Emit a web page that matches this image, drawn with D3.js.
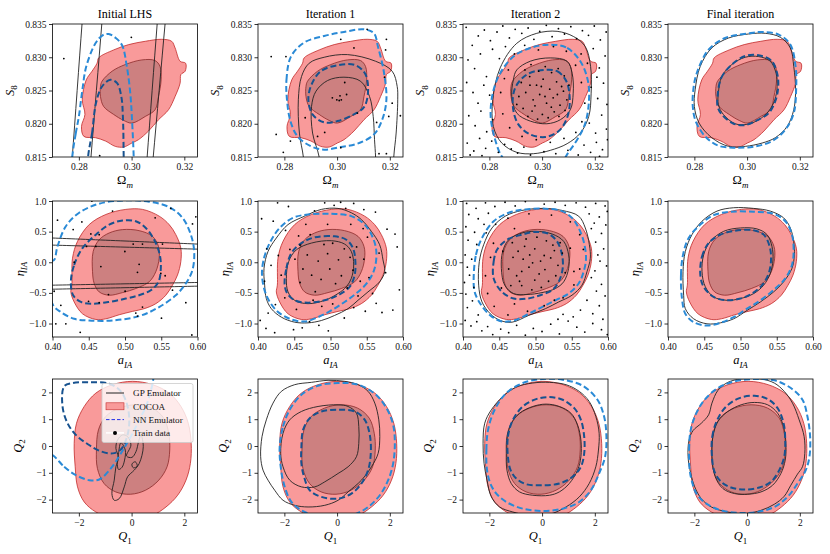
<!DOCTYPE html>
<html>
<head>
<meta charset="utf-8">
<script src="https://cdn.jsdelivr.net/npm/d3@7"></script>
<style>
  body { margin: 0; background: #fff; }
  svg { font-family: "Liberation Serif", "Times New Roman", serif; }
</style>
</head>
<body>
<div class="chart"></div>
<script>
// ---- titles / ticks ----
var columnTitles = ["Initial LHS", "Iteration 1", "Iteration 2", "Final iteration"];
var s8XTicks = [0.28, 0.30, 0.32], s8YTicks = [0.815, 0.820, 0.825, 0.830, 0.835];
var iaXTicks = [0.40, 0.45, 0.50, 0.55, 0.60], iaYTicks = [-1.0, -0.5, 0.0, 0.5, 1.0];
var qXTicks = [-2, 0, 2], qYTicks = [-2, -1, 0, 1, 2];
var legendLabels = ["GP Emulator", "COCOA", "NN Emulator", "Train data"];

// ---- COCOA reference contours (same in every column of a row) ----
var s8CocoaOuter = [[0.2875,0.8299],[0.2932,0.8311],[0.2989,0.8319],[0.3052,0.8324],[0.3114,0.8327],[0.3152,0.8324],[0.3165,0.8314],[0.3184,0.8294],[0.3205,0.8291],[0.3203,0.8279],[0.3187,0.8274],[0.3184,0.8261],[0.3165,0.8241],[0.3140,0.8221],[0.3102,0.8206],[0.3064,0.8189],[0.3026,0.8176],[0.3001,0.8171],[0.2970,0.8165],[0.2938,0.8166],[0.2901,0.8174],[0.2863,0.8179],[0.2819,0.8181],[0.2810,0.8196],[0.2823,0.8214],[0.2813,0.8236],[0.2828,0.8266],[0.2850,0.8279],[0.2869,0.8291]];
var s8CocoaInner = [[0.2888,0.8264],[0.2926,0.8279],[0.2976,0.8289],[0.3039,0.8296],[0.3089,0.8295],[0.3108,0.8286],[0.3112,0.8266],[0.3102,0.8241],[0.3089,0.8221],[0.3052,0.8211],[0.3001,0.8201],[0.2970,0.8205],[0.2932,0.8214],[0.2894,0.8226],[0.2882,0.8241],[0.2882,0.8256]];
var iaCocoaOuter = [[0.4276,0.066],[0.4345,0.341],[0.4506,0.615],[0.4736,0.780],[0.5011,0.863],[0.5241,0.863],[0.5471,0.753],[0.5609,0.615],[0.5701,0.451],[0.5770,0.231],[0.5770,0.011],[0.5724,-0.209],[0.5655,-0.374],[0.5563,-0.538],[0.5425,-0.676],[0.5264,-0.758],[0.5103,-0.802],[0.4920,-0.857],[0.4736,-0.923],[0.4598,-0.934],[0.4414,-0.841],[0.4299,-0.648],[0.4253,-0.484],[0.4267,-0.374]];
var iaCocoaInner = [[0.4552,-0.154],[0.4561,0.176],[0.4644,0.368],[0.4782,0.478],[0.4966,0.533],[0.5195,0.516],[0.5379,0.423],[0.5462,0.258],[0.5471,0.066],[0.5425,-0.154],[0.5333,-0.319],[0.5149,-0.429],[0.4966,-0.495],[0.4782,-0.538],[0.4644,-0.484],[0.4575,-0.346]];
var qCocoaOuter = [[-2.177,0.100],[-2.089,0.850],[-1.797,1.475],[-1.354,1.975],[-0.722,2.288],[0.038,2.413],[0.797,2.288],[1.430,1.975],[1.873,1.475],[2.150,0.850],[2.260,0.100],[2.230,-0.650],[2.063,-1.275],[1.747,-1.838],[1.304,-2.275],[0.797,-2.588],[0.038,-2.750],[-0.722,-2.713],[-1.354,-2.463],[-1.797,-2.088],[-2.051,-1.525],[-2.139,-0.775]];
var qCocoaInner = [[-1.333,-0.150],[-1.258,0.600],[-0.981,1.100],[-0.478,1.413],[0.151,1.538],[0.780,1.413],[1.220,1.038],[1.409,0.475],[1.447,-0.150],[1.346,-0.775],[1.031,-1.275],[0.528,-1.650],[-0.038,-1.800],[-0.604,-1.713],[-1.044,-1.400],[-1.296,-0.838]];

// ---- GP emulator contours, one list of rings per column ----
var s8Gp = [
  [[[0.2755,0.805],[0.2775,0.815],[0.2812,0.835],[0.2832,0.845],[0.3151,0.845],[0.3127,0.835],[0.3082,0.815],[0.3058,0.805]],
   [[0.2826,0.805],[0.2846,0.815],[0.2887,0.835],[0.2907,0.845],[0.3117,0.845],[0.3097,0.835],[0.3059,0.815],[0.3040,0.805]]],
  [[[0.2872,0.815],[0.2857,0.8186],[0.2853,0.8236],[0.2865,0.8271],[0.2894,0.8291],[0.2951,0.8300],[0.3039,0.8304],[0.3146,0.8294],[0.3209,0.8279],[0.3228,0.8256],[0.3230,0.8236],[0.3224,0.8186],[0.3215,0.815],[0.3212,0.811],[0.2878,0.811]],
   [[0.2932,0.815],[0.2907,0.8186],[0.2903,0.8226],[0.2920,0.8249],[0.2964,0.8265],[0.3026,0.8270],[0.3089,0.8264],[0.3123,0.8241],[0.3137,0.8211],[0.3142,0.8176],[0.3146,0.815],[0.3148,0.811],[0.2940,0.811]]],
  [[[0.2980,0.8336],[0.3057,0.8339],[0.3120,0.8331],[0.3164,0.8316],[0.3184,0.8286],[0.3186,0.8246],[0.3177,0.8211],[0.3145,0.8186],[0.3095,0.8170],[0.3031,0.8160],[0.2968,0.8155],[0.2904,0.8157],[0.2847,0.8171],[0.2815,0.8196],[0.2813,0.8236],[0.2841,0.8284],[0.2904,0.8321]],
   [[0.2904,0.8281],[0.2955,0.8294],[0.3031,0.8299],[0.3095,0.8294],[0.3114,0.8276],[0.3118,0.8246],[0.3107,0.8221],[0.3069,0.8206],[0.3018,0.8200],[0.2955,0.8204],[0.2904,0.8216],[0.2885,0.8241],[0.2891,0.8266]]],
  [[[0.2803,0.8251],[0.2822,0.8286],[0.2866,0.8314],[0.2930,0.8329],[0.3006,0.8335],[0.3069,0.8336],[0.3126,0.8330],[0.3164,0.8314],[0.3177,0.8286],[0.3184,0.8251],[0.3177,0.8221],[0.3152,0.8196],[0.3107,0.8179],[0.3057,0.8171],[0.2993,0.8166],[0.2930,0.8166],[0.2866,0.8179],[0.2818,0.8201],[0.2800,0.8226]],
   [[0.2891,0.8246],[0.2904,0.8271],[0.2942,0.8289],[0.2993,0.8300],[0.3044,0.8301],[0.3088,0.8294],[0.3110,0.8276],[0.3114,0.8256],[0.3105,0.8236],[0.3082,0.8219],[0.3044,0.8206],[0.2999,0.8199],[0.2955,0.8200],[0.2910,0.8214],[0.2891,0.8229]]]
];
var iaGp = [
  [[[0.38,0.406],[0.40,0.396],[0.50,0.347],[0.60,0.297],[0.62,0.287],[0.62,-0.385],[0.60,-0.390],[0.50,-0.415],[0.40,-0.440],[0.38,-0.445]],
   [[0.38,0.287],[0.40,0.280],[0.50,0.247],[0.60,0.214],[0.62,0.207],[0.62,-0.326],[0.60,-0.330],[0.50,-0.352],[0.40,-0.374],[0.38,-0.378]]],
  [[[0.4083,-0.099],[0.4138,0.176],[0.4253,0.396],[0.4414,0.615],[0.4644,0.753],[0.4874,0.863],[0.5103,0.879],[0.5287,0.808],[0.5425,0.698],[0.5563,0.505],[0.5678,0.286],[0.5724,0.038],[0.5747,-0.154],[0.5678,-0.319],[0.5517,-0.484],[0.5379,-0.621],[0.5241,-0.758],[0.5057,-0.868],[0.4874,-0.951],[0.4690,-0.989],[0.4506,-0.978],[0.4322,-0.896],[0.4184,-0.758],[0.4115,-0.593],[0.4092,-0.374]],
   [[0.4391,-0.264],[0.4423,0.011],[0.4529,0.203],[0.4736,0.313],[0.5011,0.352],[0.5195,0.297],[0.5287,0.176],[0.5320,-0.044],[0.5287,-0.264],[0.5218,-0.401],[0.5103,-0.511],[0.4920,-0.621],[0.4690,-0.676],[0.4506,-0.621],[0.4414,-0.484]]],
  [[[0.4216,-0.374],[0.4225,0.011],[0.4285,0.286],[0.4400,0.560],[0.4584,0.753],[0.4814,0.846],[0.5090,0.879],[0.5366,0.846],[0.5595,0.753],[0.5687,0.560],[0.5743,0.286],[0.5756,0.066],[0.5710,-0.154],[0.5641,-0.374],[0.5503,-0.538],[0.5320,-0.648],[0.5136,-0.758],[0.4906,-0.868],[0.4676,-0.978],[0.4515,-0.951],[0.4377,-0.841],[0.4262,-0.648]],
   [[0.4529,-0.099],[0.4547,0.176],[0.4630,0.368],[0.4814,0.478],[0.4998,0.505],[0.5228,0.462],[0.5389,0.341],[0.5457,0.121],[0.5457,-0.099],[0.5389,-0.319],[0.5274,-0.429],[0.5090,-0.495],[0.4883,-0.527],[0.4699,-0.511],[0.4575,-0.374]]],
  [[[0.4216,-0.538],[0.4207,-0.154],[0.4239,0.176],[0.4331,0.451],[0.4469,0.670],[0.4676,0.835],[0.4906,0.890],[0.5182,0.879],[0.5411,0.835],[0.5595,0.725],[0.5687,0.560],[0.5733,0.341],[0.5743,0.121],[0.5710,-0.099],[0.5595,-0.319],[0.5457,-0.484],[0.5274,-0.648],[0.5090,-0.786],[0.4906,-0.923],[0.4722,-0.989],[0.4538,-1.005],[0.4354,-0.923],[0.4239,-0.758]],
   [[0.4469,-0.154],[0.4492,0.121],[0.4584,0.341],[0.4768,0.505],[0.4998,0.560],[0.5228,0.544],[0.5366,0.451],[0.5434,0.258],[0.5448,0.038],[0.5411,-0.181],[0.5320,-0.374],[0.5182,-0.511],[0.4998,-0.593],[0.4814,-0.621],[0.4630,-0.566],[0.4515,-0.401]]]
];
var qGp = [
  [[[-0.532,0.225],[-0.342,0.413],[-0.152,0.350],[-0.025,0.038],[-0.190,-0.375],[0.013,-0.425],[0.165,-0.213],[0.266,0.163],[0.354,0.413],[0.443,-0.025],[0.291,-0.650],[0.101,-0.900],[-0.152,-1.150],[-0.278,-1.525],[-0.468,-1.963],[-0.658,-2.025],[-0.747,-1.775],[-0.658,-1.275],[-0.595,-0.775],[-0.494,-0.425],[-0.595,-0.088]],
   [[-0.405,0.125],[-0.241,-0.150],[-0.266,-0.525],[-0.367,-0.800],[-0.494,-0.875],[-0.544,-0.625],[-0.494,-0.250]],
   [[0.013,-0.675],[0.139,-0.588],[0.215,-0.750],[0.063,-0.813]]],
  [[[-2.899,-0.400],[-2.848,0.350],[-2.684,0.975],[-2.430,1.600],[-2.114,2.038],[-1.608,2.288],[-0.975,2.375],[-0.342,2.450],[0.291,2.413],[0.797,2.288],[1.177,2.038],[1.430,1.600],[1.582,0.975],[1.620,0.350],[1.557,-0.275],[1.304,-0.775],[0.924,-1.275],[0.418,-1.713],[0.038,-2.025],[-0.468,-2.213],[-1.101,-2.275],[-1.608,-2.213],[-2.051,-2.025],[-2.367,-1.650],[-2.620,-1.275],[-2.810,-0.900]],
   [[-2.139,-0.275],[-2.051,0.475],[-1.797,0.975],[-1.354,1.288],[-0.722,1.475],[0.038,1.538],[0.418,1.475],[0.734,1.225],[0.823,0.725],[0.823,0.100],[0.734,-0.400],[0.418,-0.775],[0.038,-1.025],[-0.468,-1.338],[-0.848,-1.525],[-1.354,-1.525],[-1.797,-1.275],[-2.051,-0.775]]],
  [[[-2.239,0.100],[-2.176,0.850],[-1.925,1.350],[-1.484,1.850],[-0.981,2.200],[-0.352,2.350],[0.277,2.375],[0.906,2.288],[1.409,2.038],[1.786,1.663],[2.038,1.100],[2.164,0.475],[2.138,-0.150],[2.038,-0.775],[1.786,-1.400],[1.409,-1.900],[0.906,-2.275],[0.277,-2.550],[-0.478,-2.588],[-1.107,-2.463],[-1.610,-2.275],[-1.925,-1.900],[-2.088,-1.275],[-2.201,-0.650]],
   [[-1.358,-0.275],[-1.333,0.350],[-1.170,0.850],[-0.855,1.225],[-0.352,1.475],[0.151,1.563],[0.654,1.475],[1.094,1.225],[1.346,0.788],[1.472,0.225],[1.472,-0.400],[1.346,-0.900],[1.031,-1.400],[0.654,-1.713],[0.277,-1.838],[-0.352,-1.838],[-0.855,-1.713],[-1.170,-1.400],[-1.333,-0.900]]],
  [[[-2.239,-0.400],[-2.201,0.225],[-2.050,0.575],[-1.736,0.850],[-1.459,1.163],[-1.333,1.600],[-1.107,2.075],[-0.730,2.375],[-0.226,2.500],[0.528,2.500],[1.031,2.350],[1.409,2.038],[1.723,1.600],[1.975,0.975],[2.164,0.350],[2.189,-0.275],[2.101,-0.775],[1.912,-1.050],[1.660,-1.463],[1.409,-1.875],[1.031,-2.175],[0.528,-2.400],[-0.101,-2.525],[-0.730,-2.463],[-1.358,-2.275],[-1.736,-1.963],[-1.987,-1.525],[-2.138,-1.025]],
   [[-1.333,-0.400],[-1.296,0.350],[-1.107,0.913],[-0.730,1.288],[-0.226,1.538],[0.277,1.625],[0.780,1.538],[1.157,1.225],[1.384,0.725],[1.472,0.100],[1.447,-0.525],[1.283,-1.025],[0.969,-1.463],[0.528,-1.713],[0.025,-1.800],[-0.478,-1.775],[-0.918,-1.588],[-1.208,-1.150]]]
];

// ---- NN emulator contours, [outer, inner] per column ----
var s8Nn = [
  [[[0.2775,0.815],[0.2788,0.8185],[0.2800,0.8211],[0.2813,0.8250],[0.2828,0.8286],[0.2863,0.8321],[0.2890,0.8333],[0.2913,0.8335],[0.2940,0.8329],[0.2964,0.8318],[0.2982,0.8286],[0.2995,0.8246],[0.3001,0.8211],[0.3008,0.815],[0.3010,0.811],[0.2772,0.811]],
   [[0.2835,0.815],[0.2850,0.8186],[0.2865,0.8231],[0.2888,0.8256],[0.2920,0.8266],[0.2945,0.8261],[0.2961,0.8241],[0.2967,0.8211],[0.2970,0.815],[0.2971,0.811],[0.2834,0.811]]],
  [[[0.2810,0.8236],[0.2808,0.8266],[0.2825,0.8301],[0.2875,0.8322],[0.2951,0.8332],[0.3026,0.8338],[0.3102,0.8342],[0.3140,0.8336],[0.3155,0.8316],[0.3177,0.8279],[0.3187,0.8236],[0.3171,0.8206],[0.3140,0.8184],[0.3077,0.8170],[0.3014,0.8165],[0.2951,0.8161],[0.2901,0.8166],[0.2850,0.8181],[0.2823,0.8204]],
   [[0.2891,0.8236],[0.2903,0.8259],[0.2938,0.8279],[0.3001,0.8288],[0.3070,0.8288],[0.3108,0.8274],[0.3117,0.8246],[0.3102,0.8225],[0.3064,0.8214],[0.3001,0.8204],[0.2951,0.8202],[0.2907,0.8214]]],
  [[[0.3031,0.8319],[0.3095,0.8314],[0.3145,0.8294],[0.3173,0.8266],[0.3178,0.8236],[0.3164,0.8201],[0.3133,0.8176],[0.3095,0.8154],[0.3069,0.8139],[0.2968,0.8134],[0.2879,0.8139],[0.2847,0.8151],[0.2822,0.8176],[0.2805,0.8211],[0.2813,0.8246],[0.2841,0.8276],[0.2891,0.8301],[0.2955,0.8314]],
   [[0.3006,0.8281],[0.3057,0.8279],[0.3092,0.8264],[0.3105,0.8236],[0.3095,0.8209],[0.3063,0.8189],[0.3012,0.8180],[0.2955,0.8184],[0.2910,0.8199],[0.2889,0.8226],[0.2898,0.8254],[0.2942,0.8274]]],
  [[[0.2809,0.8276],[0.2853,0.8311],[0.2917,0.8329],[0.3006,0.8336],[0.3057,0.8338],[0.3120,0.8334],[0.3164,0.8319],[0.3184,0.8286],[0.3186,0.8251],[0.3177,0.8216],[0.3145,0.8191],[0.3095,0.8174],[0.3031,0.8166],[0.2955,0.8164],[0.2891,0.8167],[0.2841,0.8181],[0.2805,0.8204],[0.2794,0.8226],[0.2796,0.8251]],
   [[0.2888,0.8241],[0.2902,0.8269],[0.2942,0.8289],[0.2993,0.8302],[0.3044,0.8303],[0.3092,0.8295],[0.3114,0.8276],[0.3118,0.8255],[0.3107,0.8234],[0.3082,0.8216],[0.3037,0.8205],[0.2993,0.8198],[0.2949,0.8200],[0.2904,0.8214],[0.2888,0.8226]]]
];
var iaNn = [
  [[[0.4023,0.038],[0.4069,0.258],[0.4184,0.588],[0.4368,0.808],[0.4644,0.956],[0.5011,1.011],[0.5333,0.989],[0.5609,0.901],[0.5793,0.725],[0.5908,0.451],[0.5954,0.176],[0.5931,-0.126],[0.5839,-0.346],[0.5701,-0.538],[0.5471,-0.731],[0.5195,-0.879],[0.4828,-0.951],[0.4506,-0.951],[0.4299,-0.923],[0.4115,-0.813],[0.4009,-0.703],[0.3954,-0.374],[0.3977,0.011]],
   [[0.4253,-0.319],[0.4299,-0.044],[0.4414,0.231],[0.4598,0.451],[0.4782,0.615],[0.4966,0.681],[0.5149,0.670],[0.5287,0.560],[0.5402,0.368],[0.5480,0.121],[0.5494,-0.099],[0.5462,-0.319],[0.5356,-0.456],[0.5195,-0.538],[0.5011,-0.593],[0.4782,-0.648],[0.4552,-0.676],[0.4391,-0.648],[0.4285,-0.538]]],
  [[[0.4055,-0.209],[0.4083,0.066],[0.4161,0.313],[0.4299,0.560],[0.4483,0.725],[0.4690,0.780],[0.5011,0.791],[0.5287,0.753],[0.5471,0.615],[0.5586,0.396],[0.5632,0.176],[0.5609,-0.099],[0.5517,-0.319],[0.5379,-0.484],[0.5195,-0.648],[0.5011,-0.786],[0.4828,-0.896],[0.4644,-0.967],[0.4437,-0.923],[0.4253,-0.786],[0.4115,-0.538]],
   [[0.4368,-0.374],[0.4391,-0.099],[0.4460,0.148],[0.4598,0.313],[0.4782,0.407],[0.5057,0.423],[0.5218,0.368],[0.5310,0.231],[0.5343,0.011],[0.5333,-0.209],[0.5264,-0.401],[0.5103,-0.538],[0.4920,-0.621],[0.4690,-0.659],[0.4506,-0.621],[0.4405,-0.511]]],
  [[[0.4147,-0.264],[0.4179,0.121],[0.4262,0.396],[0.4423,0.670],[0.4630,0.808],[0.4860,0.863],[0.5136,0.874],[0.5366,0.835],[0.5503,0.725],[0.5595,0.560],[0.5664,0.341],[0.5697,0.066],[0.5664,-0.154],[0.5595,-0.346],[0.5457,-0.511],[0.5274,-0.621],[0.5090,-0.731],[0.4906,-0.841],[0.4699,-0.951],[0.4538,-0.967],[0.4377,-0.868],[0.4239,-0.676],[0.4161,-0.484]],
   [[0.4423,-0.264],[0.4423,0.011],[0.4469,0.203],[0.4607,0.368],[0.4814,0.451],[0.4998,0.495],[0.5182,0.462],[0.5297,0.341],[0.5366,0.121],[0.5375,-0.099],[0.5320,-0.319],[0.5228,-0.456],[0.5067,-0.538],[0.4883,-0.593],[0.4699,-0.593],[0.4538,-0.484]]],
  [[[0.4193,-0.593],[0.4179,-0.209],[0.4207,0.121],[0.4285,0.396],[0.4446,0.615],[0.4630,0.769],[0.4860,0.824],[0.5182,0.824],[0.5457,0.791],[0.5618,0.670],[0.5710,0.451],[0.5733,0.176],[0.5710,-0.044],[0.5618,-0.264],[0.5480,-0.429],[0.5274,-0.621],[0.5090,-0.758],[0.4906,-0.896],[0.4722,-0.989],[0.4538,-1.033],[0.4354,-0.978],[0.4239,-0.841]],
   [[0.4446,-0.209],[0.4469,0.093],[0.4561,0.313],[0.4722,0.451],[0.4929,0.516],[0.5182,0.522],[0.5320,0.451],[0.5402,0.258],[0.5421,0.038],[0.5389,-0.181],[0.5297,-0.374],[0.5159,-0.511],[0.4998,-0.593],[0.4814,-0.621],[0.4630,-0.566],[0.4492,-0.401]]]
];
var qNn = [
  [[[-3.0,-0.338],[-2.557,-0.775],[-2.114,-1.088],[-1.608,-1.275],[-1.228,-1.250],[-0.785,-0.838],[-0.468,-0.375],[-0.215,0.038],[0.038,0.475],[0.291,0.975],[0.544,1.475],[0.734,2.075],[0.823,2.500],[0.85,2.9],[-3.4,2.9],[-3.4,-0.2]],
   [[-2.557,2.225],[-2.620,1.475],[-2.430,0.850],[-2.114,0.413],[-1.671,0.075],[-1.228,-0.175],[-0.722,-0.275],[-0.405,-0.125],[-0.190,0.288],[-0.089,0.850],[-0.152,1.475],[-0.405,2.038],[-0.848,2.325],[-1.608,2.375],[-2.241,2.350]]],
  [[[-2.177,-0.025],[-2.051,0.725],[-1.797,1.350],[-1.354,1.913],[-0.722,2.250],[0.038,2.350],[0.797,2.288],[1.430,1.950],[1.873,1.413],[2.127,0.788],[2.190,0.100],[2.127,-0.650],[1.937,-1.275],[1.620,-1.838],[1.177,-2.275],[0.671,-2.550],[0.038,-2.675],[-0.722,-2.625],[-1.354,-2.400],[-1.734,-2.088],[-1.987,-1.525],[-2.139,-0.775]],
   [[-1.354,-0.025],[-1.291,0.600],[-1.038,1.038],[-0.595,1.288],[0.038,1.350],[0.671,1.288],[1.051,0.975],[1.241,0.413],[1.278,-0.275],[1.177,-0.900],[0.924,-1.400],[0.544,-1.775],[0.038,-1.963],[-0.595,-1.900],[-1.038,-1.650],[-1.253,-1.150],[-1.354,-0.650]]],
  [[[-2.088,-0.900],[-2.113,-0.150],[-2.050,0.600],[-1.799,1.350],[-1.358,1.975],[-0.730,2.350],[0.025,2.500],[0.780,2.475],[1.535,2.250],[2.101,1.725],[2.352,1.100],[2.440,0.350],[2.390,-0.400],[2.164,-1.025],[1.849,-1.650],[1.409,-2.088],[0.780,-2.338],[0.025,-2.425],[-0.730,-2.338],[-1.358,-2.088],[-1.736,-1.775],[-1.962,-1.400]],
   [[-1.296,-0.400],[-1.296,0.350],[-1.107,0.975],[-0.730,1.475],[-0.226,1.750],[0.277,1.825],[0.780,1.725],[1.220,1.413],[1.472,0.975],[1.597,0.350],[1.597,-0.275],[1.472,-0.775],[1.157,-1.150],[0.654,-1.400],[0.025,-1.463],[-0.604,-1.425],[-0.981,-1.213],[-1.195,-0.900]]],
  [[[-2.176,-0.900],[-2.201,-0.150],[-2.138,0.600],[-1.925,1.225],[-1.610,1.725],[-1.107,2.163],[-0.478,2.413],[0.277,2.500],[1.031,2.450],[1.660,2.163],[2.101,1.725],[2.289,1.100],[2.390,0.350],[2.365,-0.400],[2.226,-0.900],[1.912,-1.400],[1.535,-1.900],[1.031,-2.275],[0.403,-2.463],[-0.226,-2.500],[-0.981,-2.400],[-1.547,-2.150],[-1.925,-1.775],[-2.088,-1.338]],
   [[-1.333,-0.400],[-1.321,0.350],[-1.132,0.975],[-0.792,1.475],[-0.289,1.788],[0.277,1.875],[0.780,1.750],[1.157,1.413],[1.384,0.850],[1.447,0.225],[1.409,-0.400],[1.220,-0.900],[0.906,-1.338],[0.465,-1.550],[-0.101,-1.625],[-0.604,-1.550],[-0.981,-1.338],[-1.233,-0.963]]]
];

// ---- training points ----
var s8TrainLhs = [[0.2743,0.8298],[0.2999,0.8330],[0.2879,0.8152]];
var s8TrainIt1 = [[0.2750,0.8301],[0.2806,0.8301],[0.2769,0.8184],[0.2796,0.8157],[0.2823,0.8174],[0.2879,0.8209],[0.2926,0.8181],[0.2982,0.8239],[0.2999,0.8236],[0.3008,0.8235],[0.3016,0.8236],[0.3011,0.8242],[0.3036,0.8244],[0.3029,0.8262],[0.3064,0.8314],[0.3014,0.8327],[0.3114,0.8342],[0.3187,0.8327],[0.3184,0.8311],[0.3180,0.8270],[0.3209,0.8231],[0.3240,0.8212],[0.3196,0.8211],[0.3150,0.8202],[0.3077,0.8216],[0.2953,0.8187],[0.3014,0.8164],[0.3159,0.8155],[0.3187,0.8155]];
var s8TrainIt2 = [[0.2712,0.8345],[0.2735,0.8318],[0.2758,0.8332],[0.2781,0.8341],[0.2804,0.8325],[0.2829,0.8338],[0.2851,0.8347],[0.2876,0.8329],[0.2898,0.8342],[0.2923,0.8336],[0.2947,0.8344],[0.2969,0.8327],[0.2991,0.8339],[0.3016,0.8348],[0.3038,0.8331],[0.3062,0.8343],[0.3085,0.8335],[0.3109,0.8346],[0.3131,0.8328],[0.3153,0.8340],[0.3176,0.8333],[0.3198,0.8347],[0.3221,0.8326],[0.3243,0.8338],
  [0.2719,0.8296],[0.2744,0.8283],[0.2766,0.8305],[0.2789,0.8271],[0.2812,0.8312],[0.2838,0.8298],[0.2861,0.8316],[0.3148,0.8305],[0.3172,0.8291],[0.3194,0.8313],[0.3217,0.8284],[0.3239,0.8302],[0.3208,0.8270],
  [0.2714,0.8262],[0.2738,0.8247],[0.2757,0.8231],[0.2779,0.8258],[0.2801,0.8243],[0.3186,0.8255],[0.3211,0.8238],[0.3233,0.8261],[0.3246,0.8229],
  [0.2722,0.8212],[0.2746,0.8197],[0.2768,0.8219],[0.2790,0.8188],[0.2813,0.8206],[0.3179,0.8201],[0.3203,0.8186],[0.3226,0.8213],[0.3244,0.8192],
  [0.2716,0.8171],[0.2741,0.8159],[0.2763,0.8178],[0.2786,0.8163],[0.2809,0.8174],[0.2834,0.8157],[0.2858,0.8169],[0.2883,0.8162],[0.2907,0.8156],[0.2931,0.8165],[0.3159,0.8168],[0.3184,0.8157],[0.3206,0.8172],[0.3229,0.8161],[0.3248,0.8176],
  [0.2727,0.8153],[0.2772,0.8152],[0.2956,0.8153],[0.3007,0.8158],[0.3052,0.8155],[0.3098,0.8160],[0.3137,0.8153],[0.3218,0.8151],
  [0.2872,0.8281],[0.2895,0.8305],[0.2934,0.8318],[0.2986,0.8311],[0.3043,0.8316],[0.3092,0.8309],[0.3127,0.8288],[0.3149,0.8262],[0.3162,0.8231],[0.3151,0.8203],[0.3128,0.8187],[0.3083,0.8178],[0.3031,0.8172],[0.2978,0.8176],[0.2924,0.8181],[0.2877,0.8194],[0.2851,0.8215],[0.2843,0.8247],[0.2857,0.8268],
  [0.2921,0.8262],[0.2938,0.8247],[0.2953,0.8271],[0.2966,0.8236],[0.2979,0.8258],[0.2991,0.8244],[0.3004,0.8267],[0.3017,0.8231],[0.3029,0.8252],[0.3042,0.8239],[0.3055,0.8263],[0.3068,0.8228],[0.3081,0.8249],[0.3094,0.8236],[0.2928,0.8223],[0.2946,0.8211],[0.2962,0.8219],[0.2983,0.8207],[0.3001,0.8214],[0.3023,0.8209],[0.3046,0.8218],[0.3064,0.8211],[0.3087,0.8220],[0.2935,0.8281],[0.2958,0.8289],[0.2987,0.8279],[0.3012,0.8286],[0.3036,0.8277],[0.3061,0.8283],[0.3084,0.8272],[0.2912,0.8241],[0.2973,0.8227],[0.3011,0.8241],[0.3035,0.8225],[0.3074,0.8256],[0.2997,0.8256],[0.2954,0.8258],[0.3058,0.8244],[0.3102,0.8258],[0.2904,0.8229]];
var iaTrainLhs = [[0.4069,0.687],[0.4543,1.0],[0.5632,0.879],[0.5977,0.742],[0.5931,0.626],[0.5416,0.725],[0.4828,0.835],[0.4285,0.533],[0.4405,0.659],[0.4529,0.462],[0.4469,0.258],[0.4598,0.258],[0.4644,0.451],[0.4998,0.176],[0.5113,0.297],[0.5241,0.297],[0.5195,-0.033],[0.5172,-0.165],[0.5517,0.297],[0.5494,-0.181],[0.5554,-0.220],[0.5655,-0.456],[0.4667,-0.071],[0.4299,0.0],[0.4023,-0.473],[0.4115,-0.703],[0.4184,-1.005],[0.4046,-1.005],[0.4497,-0.637],[0.4644,-0.659],[0.4772,-0.527],[0.5002,-0.473],[0.5149,-0.830],[0.5172,-0.879],[0.5241,-0.731],[0.5503,-0.912],[0.4382,-1.143],[0.5839,-0.659],[0.5922,-1.187]];
var iaTrainIt1 = [[0.405,0.71],[0.412,0.22],[0.418,-0.05],[0.409,-0.31],[0.403,-0.95],[0.411,-1.08],[0.423,-1.15],[0.421,0.67],[0.427,0.97],[0.438,0.52],[0.442,0.91],[0.449,-1.10],[0.456,0.43],[0.461,-1.07],[0.466,0.62],[0.471,-0.97],[0.478,0.84],[0.484,-1.03],[0.492,0.97],[0.497,-1.12],[0.505,0.93],[0.514,0.98],[0.521,0.88],[0.532,0.96],[0.546,0.86],[0.551,0.41],[0.562,0.82],[0.567,0.15],[0.578,0.54],[0.589,0.46],[0.595,-0.45],[0.586,-0.78],[0.571,-0.82],[0.563,-0.67],[0.548,-0.80],[0.532,-0.74],[0.519,-0.91],[0.503,-0.68],[0.488,-0.72],[0.453,-0.77],[0.437,-0.58],[0.432,-0.21],[0.424,-0.69],[0.428,0.11],[0.444,0.21],[0.451,0.05],[0.458,-0.33],[0.462,-0.11],[0.468,0.12],[0.474,-0.21],[0.479,-0.48],[0.483,0.02],[0.487,-0.28],[0.491,0.29],[0.496,0.14],[0.499,-0.11],[0.503,0.31],[0.507,-0.35],[0.511,0.04],[0.515,-0.22],[0.519,0.22],[0.523,-0.42],[0.527,0.08],[0.531,-0.13],[0.536,0.25],[0.541,-0.31],[0.546,0.05],[0.553,-0.25],[0.545,0.55],[0.528,0.62],[0.472,0.45],[0.458,0.28],[0.496,0.62],[0.558,-0.51],[0.538,-0.55],[0.476,-0.62],[0.414,-0.83],[0.592,0.25],[0.576,-0.17]];
var iaTrainIt2 = [[0.405,0.96],[0.418,0.88],[0.431,0.97],[0.444,0.91],[0.458,0.98],[0.472,0.92],[0.486,0.99],[0.512,0.95],[0.527,0.98],[0.541,0.93],[0.556,0.97],[0.569,0.90],[0.583,0.96],[0.596,0.92],
  [0.408,0.78],[0.421,0.71],[0.435,0.80],[0.574,0.79],[0.588,0.74],[0.599,0.83],[0.581,0.64],
  [0.404,0.58],[0.416,0.49],[0.429,0.62],[0.577,0.55],[0.591,0.47],[0.597,0.61],
  [0.407,0.36],[0.419,0.29],[0.583,0.33],[0.594,0.22],[0.586,0.12],
  [0.403,0.12],[0.412,0.05],[0.406,-0.08],[0.589,0.02],[0.598,-0.06],[0.582,-0.14],
  [0.409,-0.21],[0.402,-0.33],[0.415,-0.41],[0.577,-0.25],[0.591,-0.36],[0.584,-0.47],[0.596,-0.55],
  [0.404,-0.52],[0.413,-0.63],[0.406,-0.74],[0.421,-0.86],[0.571,-0.62],[0.588,-0.71],[0.562,-0.78],[0.579,-0.84],[0.593,-0.93],
  [0.403,-0.95],[0.411,-1.04],[0.419,-0.97],[0.426,-1.12],[0.434,-1.05],[0.441,-1.18],[0.452,-1.09],[0.463,-1.15],[0.474,-1.03],[0.486,-1.19],[0.497,-1.08],[0.509,-1.13],[0.521,-1.01],[0.533,-1.17],[0.545,-0.96],[0.557,-1.06],[0.568,-1.14],[0.579,-1.00],[0.591,-1.10],[0.599,-1.18],[0.552,-0.89],[0.538,-0.85],[0.531,-0.93],
  [0.432,0.48],[0.445,0.62],[0.462,0.72],[0.491,0.79],[0.522,0.77],[0.548,0.66],[0.561,0.45],[0.566,0.21],[0.561,-0.11],[0.553,-0.37],[0.538,-0.58],[0.512,-0.71],[0.489,-0.80],[0.462,-0.86],[0.443,-0.72],[0.434,-0.51],[0.431,-0.22],[0.438,0.08],[0.442,0.31],[0.453,-0.42],[0.548,0.23],[0.506,0.66],[0.471,0.55],[0.455,0.18],[0.553,-0.15],[0.526,-0.62],[0.471,-0.68],
  [0.468,0.32],[0.476,0.18],[0.483,0.05],[0.491,-0.08],[0.499,0.22],[0.505,-0.19],[0.512,0.11],[0.518,-0.31],[0.524,0.28],[0.531,-0.05],[0.537,0.15],[0.474,-0.22],[0.481,-0.38],[0.495,-0.45],[0.508,-0.41],[0.463,-0.11],[0.487,0.38],[0.502,0.41],[0.515,0.35],[0.528,-0.22],[0.492,0.12],[0.507,0.02],[0.521,0.07],[0.478,-0.31],[0.499,-0.29],[0.485,0.26],[0.469,0.08],[0.534,0.32],[0.541,-0.17],[0.513,-0.12],[0.496,-0.01],[0.481,-0.15],[0.466,-0.38],[0.526,0.19]];

var rowsSpec = [
  {xDom: [0.27, 0.325], yDom: [0.815, 0.835], xTicks: s8XTicks, yTicks: s8YTicks, xFmt: ".2f", yFmt: ".3f",
   xLab: [["Ω", false, false], ["m", true, true]], yLab: [["S", true, false], ["8", false, true]], yLabOff: 39,
   cocoa: [s8CocoaOuter, s8CocoaInner], gp: s8Gp, nn: s8Nn, train: [s8TrainLhs, s8TrainIt1, s8TrainIt2, []]},
  {xDom: [0.40, 0.60], yDom: [-1.22, 1.0], xTicks: iaXTicks, yTicks: iaYTicks, xFmt: ".2f", yFmt: ".1f",
   xLab: [["a", true, false], ["IA", true, true]], yLab: [["η", true, false], ["IA", true, true]], yLabOff: 29,
   cocoa: [iaCocoaOuter, iaCocoaInner], gp: iaGp, nn: iaNn, train: [iaTrainLhs, iaTrainIt1, iaTrainIt2, []]},
  {xDom: [-3, 2.5], yDom: [-2.5, 2.5], xTicks: qXTicks, yTicks: qYTicks, xFmt: "d", yFmt: "d",
   xLab: [["Q", true, false], ["1", false, true]], yLab: [["Q", true, false], ["2", false, true]], yLabOff: 31,
   cocoa: [qCocoaOuter, qCocoaInner], gp: qGp, nn: qNn, train: [[], [], [], []]}
];

var colX = [52.5, 258, 463, 668], colW = 145;
var rowY = [[24, 133], [201, 136], [379, 134]];
var cocoaFill = ["#f99a9a", "#cd8080"], cocoaEdge = ["#c22a2a", "#8a2a2a"];
var nnColor = ["#2a8ad6", "#17528f"];

var svg = d3.select(".chart").append("svg")
    .attr("width", 830).attr("height", 554);

function mathLabel(sel, parts, size) {
  parts.forEach(p => {
    sel.append("tspan")
      .attr("font-style", p[1] ? "italic" : "normal")
      .attr("font-size", p[2] ? size * 0.72 : size)
      .attr("dy", p[2] ? size * 0.28 : 0)
      .text(p[0]);
  });
}

rowsSpec.forEach((spec, r) => {
  colX.forEach((cx, c) => {
    var top = rowY[r][0], h = rowY[r][1];
    var x = d3.scaleLinear().domain(spec.xDom).range([0, colW]);
    var y = d3.scaleLinear().domain(spec.yDom).range([h, 0]);
    var g = svg.append("g").attr("transform", `translate(${cx}, ${top})`);
    var clipId = `clip-${r}-${c}`;
    g.append("clipPath").attr("id", clipId)
      .append("rect").attr("width", colW).attr("height", h);
    var plot = g.append("g").attr("clip-path", `url(#${clipId})`);

    var line = d3.line()
      .x(d => x(d[0])).y(d => y(d[1]))
      .curve(d3.curveCatmullRomClosed.alpha(0.5));

    // COCOA filled contours
    spec.cocoa.forEach((ring, i) => {
      plot.append("path").attr("d", line(ring))
        .attr("fill", cocoaFill[i])
        .attr("stroke", cocoaEdge[i]).attr("stroke-width", 0.8);
    });
    // GP emulator
    spec.gp[c].forEach(ring => {
      plot.append("path").attr("d", line(ring))
        .attr("fill", "none").attr("stroke", "#222").attr("stroke-width", 0.9);
    });
    // NN emulator
    spec.nn[c].forEach((ring, i) => {
      plot.append("path").attr("d", line(ring))
        .attr("fill", "none").attr("stroke", nnColor[i])
        .attr("stroke-width", 2).attr("stroke-dasharray", "6,3");
    });
    // training points
    plot.selectAll("circle.pt").data(spec.train[c]).enter()
      .append("circle").attr("class", "pt")
      .attr("cx", d => x(d[0])).attr("cy", d => y(d[1]))
      .attr("r", 0.9).attr("fill", "#000");

    // axes
    var xa = g.append("g").attr("transform", `translate(0, ${h})`)
      .call(d3.axisBottom(x).tickValues(spec.xTicks).tickSize(3.5).tickPadding(2.5)
        .tickFormat(d3.format(spec.xFmt)));
    var ya = g.append("g")
      .call(d3.axisLeft(y).tickValues(spec.yTicks).tickSize(3.5).tickPadding(2.5)
        .tickFormat(d3.format(spec.yFmt)));
    [xa, ya].forEach(a => {
      a.select(".domain").remove();
      a.selectAll("line").attr("stroke", "#000").attr("stroke-width", 0.8);
      a.selectAll("text").attr("font-family", "Liberation Serif, serif")
        .attr("font-size", 9.5).attr("fill", "#111");
    });
    g.append("rect").attr("width", colW).attr("height", h)
      .attr("fill", "none").attr("stroke", "#000").attr("stroke-width", 0.8);

    mathLabel(g.append("text").attr("x", colW / 2).attr("y", h + 27)
      .attr("text-anchor", "middle"), spec.xLab, 12.5);
    mathLabel(g.append("text")
      .attr("transform", `translate(${-spec.yLabOff}, ${h / 2}) rotate(-90)`)
      .attr("text-anchor", "middle"), spec.yLab, 12.5);

    if (r === 0) {
      g.append("text").attr("x", colW / 2).attr("y", -6)
        .attr("text-anchor", "middle").attr("font-size", 12)
        .text(columnTitles[c]);
    }

    // legend in the lower left panel
    if (r === 2 && c === 0) {
      var lg = g.append("g").attr("transform", "translate(49.5, 4.5)");
      lg.append("rect").attr("width", 91).attr("height", 59).attr("rx", 2)
        .attr("fill", "#fff").attr("fill-opacity", 0.8)
        .attr("stroke", "#ccc").attr("stroke-width", 0.8);
      legendLabels.forEach((lab, i) => {
        var ly = 9.5 + i * 13.3;
        if (i === 0) {
          lg.append("line").attr("x1", 4).attr("x2", 22).attr("y1", ly).attr("y2", ly)
            .attr("stroke", "#222").attr("stroke-width", 1);
        } else if (i === 1) {
          lg.append("rect").attr("x", 4).attr("y", ly - 3.5).attr("width", 18).attr("height", 7)
            .attr("fill", cocoaFill[0]).attr("stroke", cocoaEdge[0]).attr("stroke-width", 0.6);
        } else if (i === 2) {
          lg.append("line").attr("x1", 4).attr("x2", 22).attr("y1", ly).attr("y2", ly)
            .attr("stroke", "#2330e8").attr("stroke-width", 1).attr("stroke-dasharray", "3.5,2");
        } else {
          lg.append("line").attr("x1", 4).attr("x2", 22).attr("y1", ly).attr("y2", ly)
            .attr("stroke", "#fff").attr("stroke-width", 1.5);
          lg.append("circle").attr("cx", 13).attr("cy", ly).attr("r", 2).attr("fill", "#000");
        }
        lg.append("text").attr("x", 31).attr("y", ly + 3.3)
          .attr("font-size", 9.2).attr("fill", "#111").text(lab);
      });
    }
  });
});
</script>
</body>
</html>
